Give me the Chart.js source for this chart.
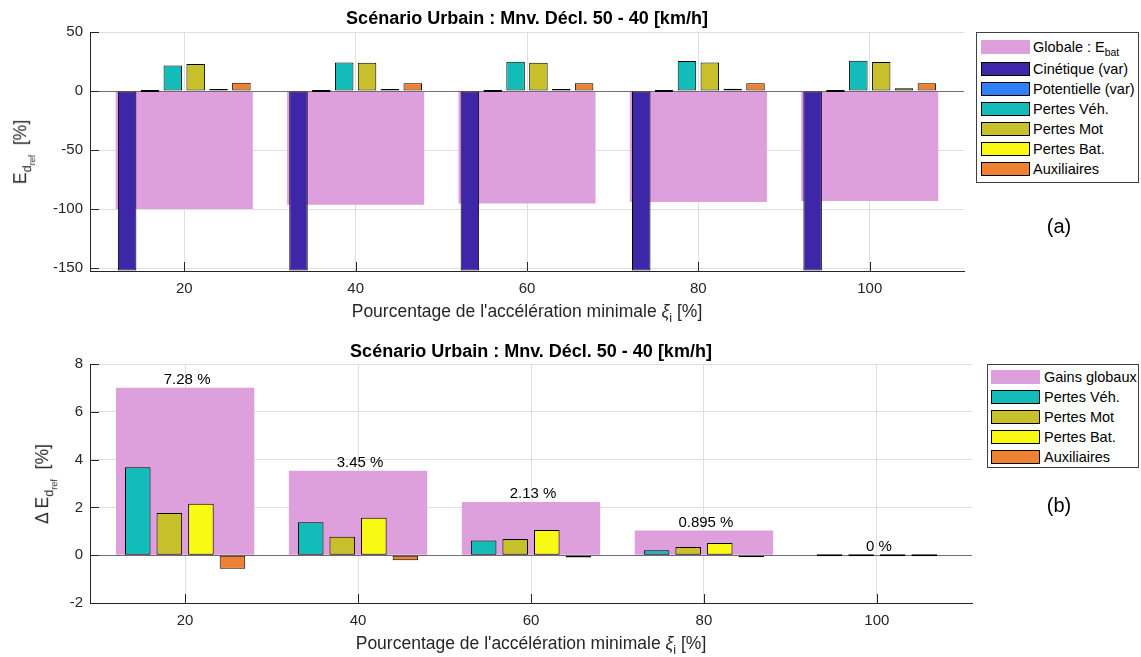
<!DOCTYPE html>
<html>
<head>
<meta charset="utf-8">
<script src="https://cdn.jsdelivr.net/npm/chart.js@4.4.1/dist/chart.umd.min.js"></script>
<style>
  body { margin: 0; width: 1141px; height: 657px; position: relative; overflow: hidden; background: #fff;
         font-family: "Liberation Sans", Arial, Helvetica, sans-serif; color: #262626; }
  canvas { position: absolute; left: 0; }
  .txt { position: absolute; white-space: nowrap; line-height: 1; transform: translate(-50%, -50%); }
  .title { font-weight: bold; font-size: 18px; color: #000; }
  .xlab { font-size: 17.5px; }
  .ylab { font-size: 17.5px; transform: translate(-50%, -50%) rotate(-90deg); }
  sub { font-size: 72%; vertical-align: -0.4em; line-height: 0; }
  .tag { font-size: 20px; color: #000; }
  .leg { position: absolute; box-sizing: border-box; border: 1px solid #404040; background: #fff;
         font-size: 14.5px; color: #000; }
  .row { display: flex; align-items: center; height: 20px; white-space: nowrap; }
  .sw { box-sizing: border-box; width: 49px; height: 14px; border: 1px solid #000; flex: none; }
</style>
</head>
<body>
<canvas id="chartA" width="1141" height="329" style="top:0"></canvas>
<canvas id="chartB" width="1141" height="328" style="top:329px"></canvas>

<div class="txt title" style="left:527px;top:18px">Scénario Urbain : Mnv. Décl. 50 - 40 [km/h]</div>
<div class="txt title" style="left:531px;top:351px">Scénario Urbain : Mnv. Décl. 50 - 40 [km/h]</div>
<div class="txt xlab" style="left:527px;top:312px">Pourcentage de l'accélération minimale <i>ξ</i><sub>i</sub> [%]</div>
<div class="txt xlab" style="left:531px;top:644px">Pourcentage de l'accélération minimale <i>ξ</i><sub>i</sub> [%]</div>
<div class="txt ylab" style="left:22px;top:152px">E<sub>d<sub>ref</sub></sub> &nbsp;[%]</div>
<div class="txt ylab" style="left:44px;top:484px">Δ E<sub>d<sub>ref</sub></sub> &nbsp;[%]</div>
<div class="txt tag" style="left:1059px;top:226px">(a)</div>
<div class="txt tag" style="left:1059px;top:505px">(b)</div>

<div class="leg" id="legA" style="left:976px;top:32px;width:163px;height:151px;padding-top:2px"></div>
<div class="leg" id="legB" style="left:987px;top:364px;width:152px;height:104px;padding-top:2px"></div>

<script>
// abscisse : pourcentage de l'accélération minimale
const xi = [20, 40, 60, 80, 100];

// (a) bilan énergétique rapporté à E_d_ref [%]
const globaleA    = [-100.0, -96.3, -95.3, -94.1, -93.2];
const cinetique   = [-152.1, -152.1, -152.1, -152.1, -152.1];
const potentielle = [0, 0, 0, 0, 0];
const pertesVehA  = [21.7, 24.2, 24.8, 25.4, 25.6];
const pertesMotA  = [22.8, 23.9, 23.9, 24.2, 24.6];
const pertesBatA  = [0.6, 1.1, 1.4, 2.0, 2.3];
const auxA        = [7.0, 6.5, 6.5, 6.5, 6.5];

// (b) gains par rapport à la référence [%]
const gainsB      = [7.01, 3.53, 2.23, 1.03, 0];
const gainsLabels = ['7.28 %', '3.45 %', '2.13 %', '0.895 %', '0 %'];
const pertesVehB  = [3.68, 1.38, 0.61, 0.21, 0];
const pertesMotB  = [1.77, 0.77, 0.68, 0.34, 0];
const pertesBatB  = [2.15, 1.57, 1.05, 0.51, 0];
const auxB        = [-0.57, -0.21, -0.10, -0.03, 0];

const yTicksA = [-150, -100, -50, 0, 50];
const yTicksB = [-2, 0, 2, 4, 6, 8];

const namesA = ['Cinétique (var)', 'Potentielle (var)', 'Pertes Véh.', 'Pertes Mot', 'Pertes Bat.', 'Auxiliaires'];
const namesB = ['Pertes Véh.', 'Pertes Mot', 'Pertes Bat.', 'Auxiliaires'];

const PINK = '#dda0dd';
const colors = {
  'Cinétique (var)': '#3e26a8',
  'Potentielle (var)': '#2f7ff7',
  'Pertes Véh.': '#12bdb9',
  'Pertes Mot': '#c8c02a',
  'Pertes Bat.': '#f9fa14',
  'Auxiliaires': '#ee8133'
};

const FONT = '"Liberation Sans", Arial, Helvetica, sans-serif';
Chart.defaults.font.family = FONT;

const pts = vals => vals.map((v, i) => ({ x: xi[i], y: v }));

// baseline, inward ticks and value labels, matlab style
const matlabAxes = {
  id: 'matlabAxes',
  afterDatasetDraw(chart, args) {
    if (!chart.data.datasets[args.index].isBack) return;
    const { ctx, chartArea: a, scales: { y } } = chart;
    const y0 = Math.round(y.getPixelForValue(0)) + 0.5;
    ctx.save();
    ctx.strokeStyle = '#6e6e6e';
    ctx.lineWidth = 1;
    ctx.beginPath();
    ctx.moveTo(a.left, y0);
    ctx.lineTo(a.right, y0);
    ctx.stroke();
    ctx.restore();
  },
  afterDraw(chart, args, opts) {
    const { ctx, chartArea: a, scales: { x, y } } = chart;
    ctx.save();
    ctx.strokeStyle = '#262626';
    ctx.lineWidth = 1;
    ctx.beginPath();
    x.ticks.forEach(t => {
      const px = Math.round(x.getPixelForValue(t.value)) + 0.5;
      ctx.moveTo(px, a.bottom);
      ctx.lineTo(px, a.bottom - 9);
    });
    y.ticks.forEach(t => {
      const py = Math.round(y.getPixelForValue(t.value)) + 0.5;
      ctx.moveTo(a.left, py);
      ctx.lineTo(a.left + 9, py);
    });
    ctx.stroke();
    if (opts.labels) {
      ctx.fillStyle = '#000';
      ctx.font = '15px ' + FONT;
      ctx.textAlign = 'center';
      ctx.textBaseline = 'alphabetic';
      opts.labels.forEach((s, i) => {
        ctx.fillText(s, x.getPixelForValue(xi[i]) + 2, y.getPixelForValue(opts.values[i]) - 4);
      });
    }
    ctx.restore();
  }
};

function xScale(height) {
  return {
    type: 'linear', min: 9, max: 111, offset: false,
    afterBuildTicks: s => { s.ticks = xi.map(v => ({ value: v })); },
    afterFit: s => { s.height = height; },
    grid: { color: '#dfdfdf', drawTicks: false, offset: false },
    border: { color: '#262626' },
    ticks: { padding: 9, color: '#262626', font: { size: 15 } }
  };
}

function yScale(min, max, ticks) {
  return {
    min, max,
    afterBuildTicks: s => { s.ticks = ticks.map(v => ({ value: v })); },
    afterFit: s => { s.width = 90; },
    grid: { color: '#dfdfdf', drawTicks: false },
    border: { color: '#262626' },
    ticks: { padding: 7, color: '#262626', font: { size: 15 } }
  };
}

function makeChart(id, back, series, names, catPct, yMin, yMax, yTicks, pad, xHeight, labelOpts) {
  // wide background bar, not grouped, drawn first
  const datasets = [{
    label: 'back', data: pts(back), isBack: true, order: 10, grouped: false,
    backgroundColor: PINK, borderWidth: 0, categoryPercentage: 0.8, barPercentage: 1
  }];
  series.forEach((vals, k) => datasets.push({
    label: names[k], data: pts(vals),
    backgroundColor: colors[names[k]], borderColor: '#000', borderWidth: 1,
    borderSkipped: false, minBarLength: 2,
    categoryPercentage: catPct, barPercentage: 0.81
  }));
  return new Chart(document.getElementById(id), {
    type: 'bar',
    data: { datasets },
    plugins: [matlabAxes],
    options: {
      responsive: false, animation: false, events: [], devicePixelRatio: 1,
      layout: { padding: pad },
      scales: {
        x: xScale(xHeight),
        y: yScale(yMin, yMax, yTicks)
      },
      plugins: { legend: { display: false }, tooltip: { enabled: false }, matlabAxes: labelOpts }
    }
  });
}

makeChart('chartA', globaleA, [cinetique, potentielle, pertesVehA, pertesMotA, pertesBatA, auxA], namesA,
  0.8, -152.5, 50, yTicksA, { left: 0, right: 177, top: 32, bottom: 0 }, 58, {});

makeChart('chartB', gainsB, [pertesVehB, pertesMotB, pertesBatB, auxB], namesB,
  0.73, -2, 8, yTicksB, { left: 0, right: 169, top: 35, bottom: 0 }, 54,
  { labels: gainsLabels, values: gainsB });

// legends
function legend(elId, first, names, swLeft, gap, firstH) {
  const el = document.getElementById(elId);
  const rows = [{ html: first, color: PINK, border: PINK, h: firstH }]
    .concat(names.map(n => ({ html: n, color: colors[n], border: '#000', h: 20 })));
  rows.forEach(r => {
    const row = document.createElement('div');
    row.className = 'row';
    row.style.height = r.h + 'px';
    row.innerHTML = '<span class="sw" style="background:' + r.color + ';border-color:' + r.border +
      ';margin-left:' + swLeft + 'px;margin-right:' + gap + 'px"></span><span>' + r.html + '</span>';
    el.appendChild(row);
  });
}
legend('legA', 'Globale : E<sub>bat</sub>', namesA, 4, 3, 24);
legend('legB', 'Gains globaux', namesB, 3, 4, 20);
</script>
</body>
</html>
